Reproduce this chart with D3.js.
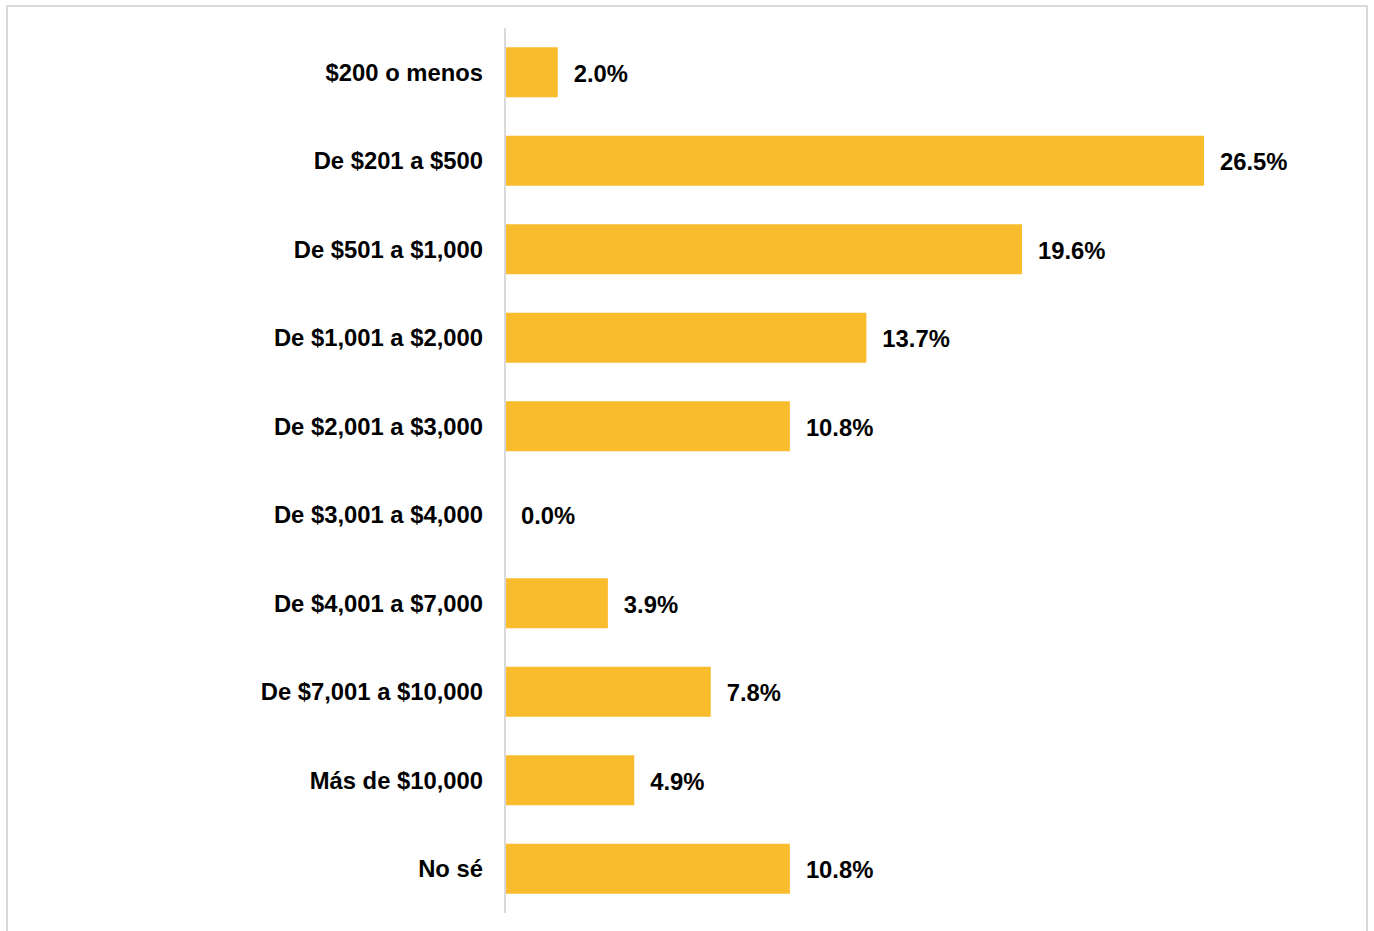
<!DOCTYPE html>
<html><head><meta charset="utf-8">
<script src="https://cdn.jsdelivr.net/npm/d3@7"></script>
<style>html,body{margin:0;padding:0;background:#fff;}svg{display:block;}</style>
</head><body>
<script>
const categories = ["$200 o menos","De $201 a $500","De $501 a $1,000","De $1,001 a $2,000","De $2,001 a $3,000","De $3,001 a $4,000","De $4,001 a $7,000","De $7,001 a $10,000","Más de $10,000","No sé"];
const values = [2.0,26.5,19.6,13.7,10.8,0.0,3.9,7.8,4.9,10.8];

const W=1374,H=931;
const svg=d3.select("body").append("svg").attr("width",W).attr("height",H);
svg.append("rect").attr("x",7).attr("y",6).attr("width",1360).attr("height",H+10)
  .attr("fill","#fff").attr("stroke","#d9d9d9").attr("stroke-width",2);

const x0=505;
const x=d3.scaleLinear().domain([0,26.5]).range([x0,1204]);
const y=d3.scaleBand().domain(categories).range([28,913]).paddingInner(0.435).paddingOuter(0.2175);

svg.selectAll("rect.bar").data(values).enter().append("rect").attr("class","bar")
  .attr("x",x(0)).attr("y",(d,i)=>y(categories[i])).attr("width",d=>x(d)-x(0)).attr("height",y.bandwidth())
  .attr("fill","#F9BC2C");

svg.append("line").attr("x1",x0).attr("x2",x0).attr("y1",28).attr("y2",913).attr("stroke","#d9d9d9").attr("stroke-width",2);

const font="'Liberation Sans', Arial, sans-serif";
const fs=23.8;
svg.selectAll("text.cat").data(categories).enter().append("text").attr("class","cat")
  .attr("x",483).attr("y",d=>y(d)+y.bandwidth()/2).attr("dy","0.35em").attr("text-anchor","end")
  .attr("font-family",font).attr("font-weight","bold").attr("font-size",fs).attr("fill","#000").text(d=>d);

svg.selectAll("text.val").data(values).enter().append("text").attr("class","val")
  .attr("x",d=>x(d)+16).attr("y",(d,i)=>y(categories[i])+y.bandwidth()/2+1).attr("dy","0.35em")
  .attr("font-family",font).attr("font-weight","bold").attr("font-size",fs).attr("fill","#000").text(d=>d.toFixed(1)+"%");
</script>
</body></html>
